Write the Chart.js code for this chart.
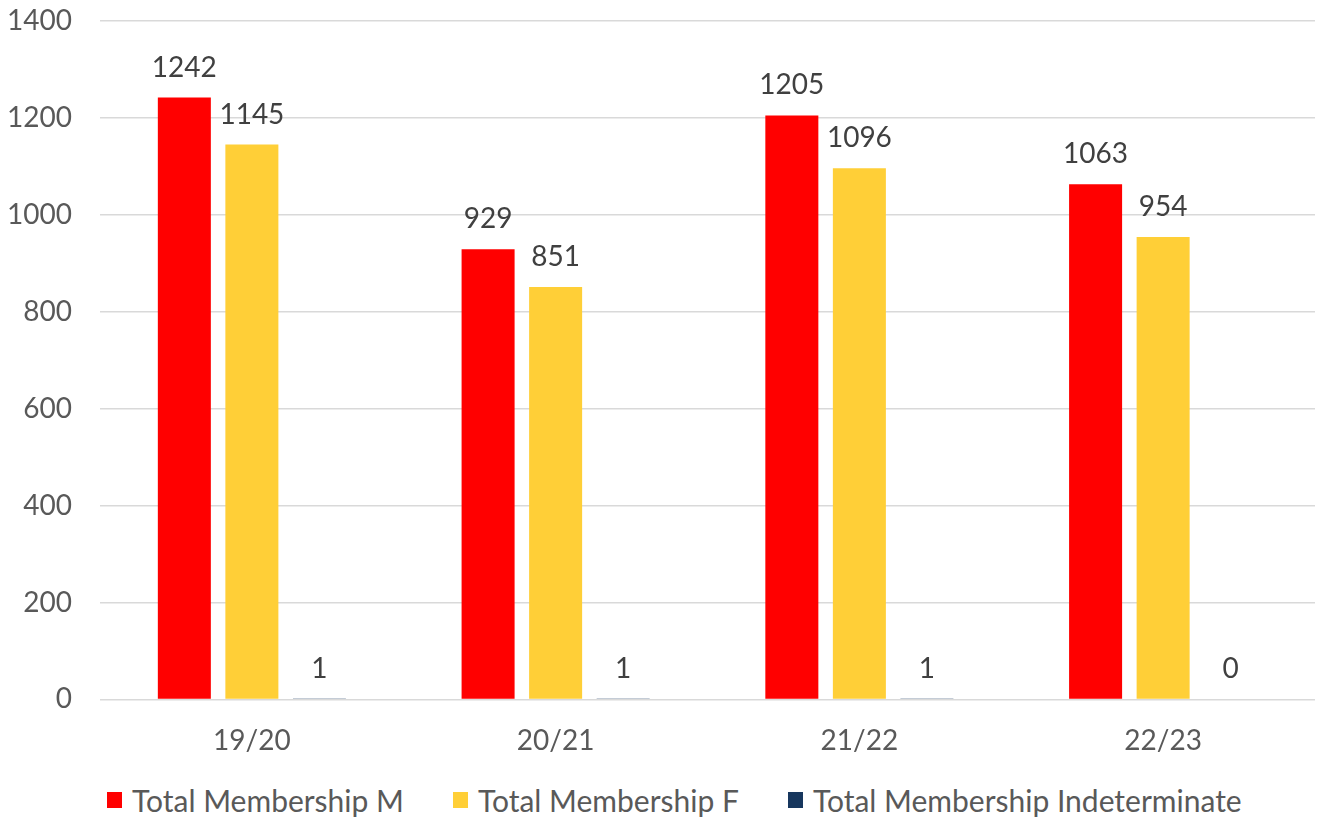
<!DOCTYPE html>
<html>
<head>
<meta charset="utf-8">
<script src="https://cdn.jsdelivr.net/npm/chart.js@4"></script>
<style>
  html, body { margin: 0; padding: 0; background: #fff; }
  #wrap { width: 1322px; height: 817px; position: relative; overflow: hidden; }
  #chartBox { position: absolute; left: 0; top: 0; width: 1322px; height: 775px; }
  #legend {
    position: absolute; left: 107px; top: 780px; height: 40px;
    display: flex; align-items: center;
    font-family: Lato, "Open Sans", sans-serif; font-size: 30px; color: #595959;
    white-space: nowrap;
  }
  #legend .item { display: flex; align-items: center; margin-right: 49px; }
  #legend .box { width: 15px; height: 16px; margin-right: 10px; }
</style>
</head>
<body>
<div id="wrap">
  <div id="chartBox"><canvas id="membershipChart"></canvas></div>
  <div id="legend"></div>
</div>
<script>
const seasons = ['19/20', '20/21', '21/22', '22/23'];
const totalM = [1242, 929, 1205, 1063];
const totalF = [1145, 851, 1096, 954];
const totalIndeterminate = [1, 1, 1, 0];
const yTicks = [0, 200, 400, 600, 800, 1000, 1200, 1400];

const FONT = 'Lato, "Open Sans", sans-serif';
const FS = 28;

// simple value labels above each bar
const valueLabels = {
  id: 'valueLabels',
  afterDatasetsDraw(chart) {
    const ctx = chart.ctx;
    ctx.save();
    ctx.font = FS + 'px ' + FONT;
    ctx.fillStyle = '#404040';
    ctx.textAlign = 'center';
    ctx.textBaseline = 'alphabetic';
    chart.data.datasets.forEach((ds, i) => {
      chart.getDatasetMeta(i).data.forEach((bar, j) => {
        ctx.fillText(String(ds.data[j]), bar.x, bar.y - 21);
      });
    });
    ctx.restore();
  }
};

// legend built as html under the canvas
const htmlLegend = {
  id: 'htmlLegend',
  afterUpdate(chart) {
    const el = document.getElementById('legend');
    el.innerHTML = '';
    chart.data.datasets.forEach(ds => {
      const item = document.createElement('div');
      item.className = 'item';
      const box = document.createElement('span');
      box.className = 'box';
      box.style.background = ds.backgroundColor;
      const txt = document.createElement('span');
      txt.textContent = ds.label;
      item.appendChild(box);
      item.appendChild(txt);
      el.appendChild(item);
    });
  }
};

const ctx = document.getElementById('membershipChart').getContext('2d');
const membershipChart = new Chart(ctx, {
  type: 'bar',
  data: {
    labels: seasons,
    datasets: [
      { label: 'Total Membership M', data: totalM, backgroundColor: '#FF0000' },
      { label: 'Total Membership F', data: totalF, backgroundColor: '#FFCF37' },
      { label: 'Total Membership Indeterminate', data: totalIndeterminate, backgroundColor: '#17375E' }
    ]
  },
  options: {
    responsive: true,
    maintainAspectRatio: false,
    animation: false,
    datasets: {
      bar: { barPercentage: 0.785, categoryPercentage: 0.667 }
    },
    layout: { padding: { top: 21, right: 7, left: 0, bottom: 0 } },
    plugins: {
      tooltip: { enabled: false },
      legend: { display: false }
    },
    scales: {
      x: {
        grid: { display: false },
        border: { display: false },
        ticks: { font: { family: FONT, size: FS }, color: '#595959', padding: 17 }
      },
      y: {
        min: 0,
        max: 1400,
        afterBuildTicks(scale) { scale.ticks = yTicks.map(v => ({ value: v })); },
        ticks: {
          font: { family: FONT, size: FS },
          color: '#595959',
          padding: 0,
          callback: v => String(v)
        },
        grid: { color: '#D9D9D9', lineWidth: 1.5, drawTicks: true, tickLength: 28, tickColor: 'rgba(0,0,0,0)' },
        border: { display: false },
        afterFit(scale) { scale.width = 100; }
      }
    }
  },
  plugins: [valueLabels, htmlLegend]
});
</script>
</body>
</html>
